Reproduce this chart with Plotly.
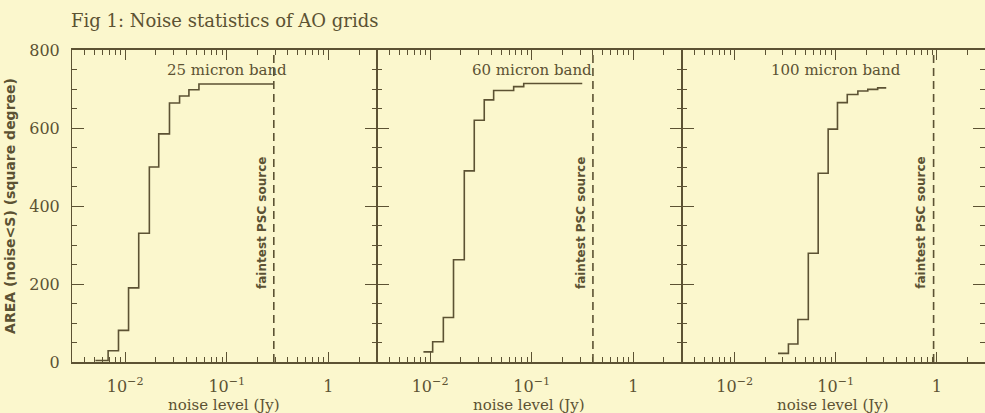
import numpy as np
import plotly.graph_objects as go
from plotly.subplots import make_subplots

# cumulative area (square degree) with noise below S
noise_25 = [0.0051, 0.0068, 0.0086, 0.0108, 0.0136, 0.0173, 0.0214, 0.0273, 0.0343, 0.0424, 0.0532, 0.29]
area_25 = [4, 29, 81, 190, 330, 500, 585, 664, 682, 698, 713, 713]

noise_60 = [0.0086, 0.0106, 0.0135, 0.0170, 0.0217, 0.0272, 0.0341, 0.0422, 0.0664, 0.0834, 0.314]
area_60 = [26, 52, 114, 262, 490, 620, 672, 696, 706, 714, 714]

noise_100 = [0.0268, 0.0340, 0.0422, 0.0535, 0.0670, 0.0841, 0.104, 0.130, 0.1655, 0.2075, 0.260, 0.316]
area_100 = [22, 46, 109, 279, 484, 597, 665, 686, 695, 699, 703, 703]

band_labels = ["25 micron band", "60 micron band", "100 micron band"]
psc_limit = [0.29, 0.40, 0.93]  # faintest PSC source (Jy)

x_tickvals = [0.01, 0.1, 1]
x_ticktext = ["10<sup>−2</sup>", "10<sup>−1</sup>", "1"]
y_tickvals = [0, 200, 400, 600, 800]

BG = "#FBF7CD"
INK = "#5C5233"
SERIF = "DejaVu Serif"
SANS = "DejaVu Sans"

curves = [(noise_25, area_25), (noise_60, area_60), (noise_100, area_100)]

fig = make_subplots(rows=1, cols=3, horizontal_spacing=0)

for i, (nx, ay) in enumerate(curves):
    col = i + 1
    fig.add_trace(
        go.Scatter(x=nx, y=ay, mode="lines", line=dict(color=INK, width=1.6, shape="hv"), showlegend=False),
        row=1, col=col,
    )
    fig.add_trace(
        go.Scatter(
            x=[psc_limit[i], psc_limit[i]], y=[0, 800], mode="lines",
            line=dict(color=INK, width=1.6, dash="8px,5px"), showlegend=False,
        ),
        row=1, col=col,
    )

minor_vals = [m * 10.0 ** e for e in range(-3, 1) for m in range(2, 10)]
domains = [[0, 0.334], [0.334, 0.668], [0.668, 1.0]]

for i in range(3):
    col = i + 1
    fig.update_xaxes(
        type="log", range=[np.log10(0.003), np.log10(3)], domain=domains[i],
        tickvals=x_tickvals, ticktext=x_ticktext,
        ticks="inside", ticklen=10, tickwidth=1.3, tickcolor=INK,
        minor=dict(ticks="inside", ticklen=5, tickwidth=1.2, tickcolor=INK, tickvals=minor_vals, showgrid=False),
        showline=True, linecolor=INK, linewidth=1.6, mirror="allticks",
        showgrid=False, zeroline=False,
        tickfont=dict(family=SERIF, size=16, color=INK), ticklabelstandoff=9,
        row=1, col=col,
    )
    fig.update_yaxes(
        range=[0, 800], tickvals=y_tickvals,
        ticks="inside", ticklen=12, tickwidth=1.3, tickcolor=INK,
        minor=dict(ticks="inside", ticklen=5, tickwidth=1.2, tickcolor=INK, dtick=50, showgrid=False),
        showline=True, linecolor=INK, linewidth=1.1, mirror="allticks",
        showgrid=False, zeroline=False, showticklabels=(i == 0),
        tickfont=dict(family=SERIF, size=16, color=INK), ticklabelstandoff=8,
        row=1, col=col,
    )

annotations = []
for i in range(3):
    xref = "x" if i == 0 else "x%d" % (i + 1)
    yref = "y" if i == 0 else "y%d" % (i + 1)
    annotations.append(dict(
        x=np.log10(0.1), y=748, xref=xref, yref=yref, text=band_labels[i], showarrow=False,
        xanchor="center", yanchor="middle",
        font=dict(family=SERIF, size=15, color=INK),
    ))
    annotations.append(dict(
        x=np.log10(psc_limit[i]), y=356, xref=xref, yref=yref, text="<b>faintest PSC source</b>",
        showarrow=False, textangle=-90, xshift=-12, xanchor="center", yanchor="middle",
        font=dict(family=SANS, size=12, color=INK),
    ))
    annotations.append(dict(
        x=0.5, y=-0.138, xref="%s domain" % xref, yref="paper", text="noise level (Jy)",
        showarrow=False, xanchor="center", yanchor="middle",
        font=dict(family=SERIF, size=15, color=INK),
    ))

annotations.append(dict(
    x=-0.068, y=0.5, xref="paper", yref="paper", text="<b>AREA (noise&lt;S) (square degree)</b>",
    showarrow=False, textangle=-90, xanchor="center", yanchor="middle",
    font=dict(family=SANS, size=14, color=INK),
))
annotations.append(dict(
    x=0, y=1.096, xref="paper", yref="paper", xanchor="left", yanchor="middle", xshift=-3,
    text="Fig 1: Noise statistics of AO grids",
    showarrow=False, font=dict(family=SERIF, size=18, color=INK),
))

fig.update_layout(
    width=985, height=413,
    margin=dict(l=72, r=0, t=50, b=51),
    paper_bgcolor=BG, plot_bgcolor=BG,
    annotations=annotations,
    showlegend=False,
)

fig.write_html(
    "out.html",
    config={"displayModeBar": False},
    post_script="document.body.style.margin='0';document.body.style.overflow='hidden';",
)
